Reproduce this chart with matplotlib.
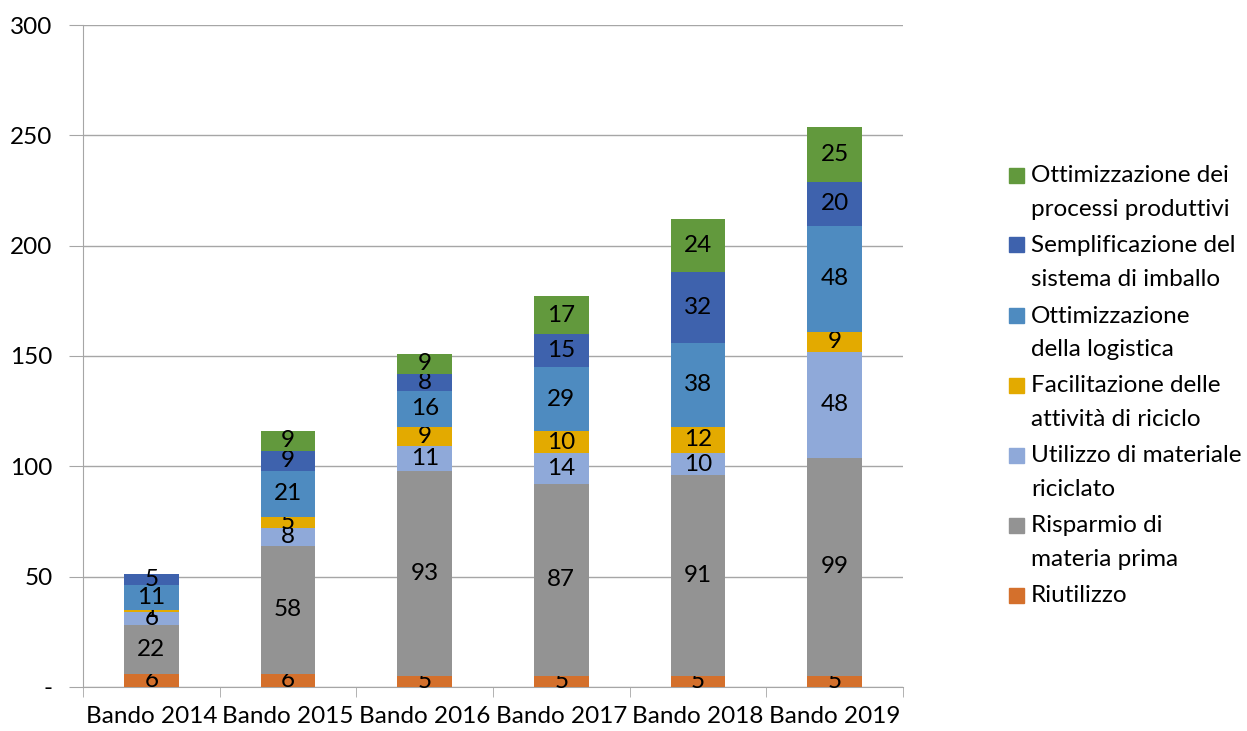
import numpy as np
import matplotlib.pyplot as plt
from matplotlib.patches import Rectangle

plt.rcParams['font.family'] = ['Lato', 'DejaVu Sans']

categories = ['Bando 2014', 'Bando 2015', 'Bando 2016', 'Bando 2017', 'Bando 2018', 'Bando 2019']

riutilizzo = [6, 6, 5, 5, 5, 5]
risparmio = [22, 58, 93, 87, 91, 99]
materiale_riciclato = [6, 8, 11, 14, 10, 48]
facilitazione = [1, 5, 9, 10, 12, 9]
logistica = [11, 21, 16, 29, 38, 48]
imballo = [5, 9, 8, 15, 32, 20]
processi = [0, 9, 9, 17, 24, 25]

series_names = ['Riutilizzo', 'Risparmio di\nmateria prima', 'Utilizzo di materiale\nriciclato',
                'Facilitazione delle\nattività di riciclo', 'Ottimizzazione\ndella logistica',
                'Semplificazione del\nsistema di imballo', 'Ottimizzazione dei\nprocessi produttivi']
series_values = [riutilizzo, risparmio, materiale_riciclato, facilitazione, logistica, imballo, processi]
colors = ['#D4702C', '#939393', '#8FA9D9', '#E3AA00', '#4E8BC0', '#3E62AD', '#62993D']

fs = 17.5
W, H = 1247, 731

fig = plt.figure(figsize=(W / 100, H / 100), dpi=100)
ax = fig.add_axes([0.0666, 0.0602, 0.6575, 0.9056])

x = np.arange(len(categories))
bottom = np.zeros(len(categories))
for name, vals, col in zip(series_names, series_values, colors):
    vals = np.array(vals, dtype=float)
    bars = ax.bar(x, vals, width=0.4, bottom=bottom, color=col, label=name, zorder=3)
    labels = [str(int(v)) if v > 0 else '' for v in vals]
    ax.bar_label(bars, labels=labels, label_type='center', fontsize=fs, color='black')
    bottom += vals

ax.set_xlim(-0.5, len(categories) - 0.5)
ax.set_ylim(0, 300)
ax.set_yticks(range(0, 301, 50))
ax.set_yticklabels(['-'] + [str(v) for v in range(50, 301, 50)], fontsize=fs)
ax.yaxis.grid(True, color='#A6A6A6', linewidth=1, zorder=0)

ax.set_xticks(x)
ax.set_xticklabels(categories, fontsize=fs)
ax.set_xticks(np.arange(-0.5, len(categories)), minor=True)
ax.tick_params(axis='x', which='major', length=0, pad=14)
ax.tick_params(axis='x', which='minor', length=7, color='#A6A6A6')
ax.tick_params(axis='y', length=10, color='#A6A6A6', pad=12)

for side in ['top', 'right']:
    ax.spines[side].set_visible(False)
for side in ['left', 'bottom']:
    ax.spines[side].set_color('#A6A6A6')

# legend drawn by hand: square beside the first line of each entry, top series first
box = 15
for i, (name, col) in enumerate(zip(series_names[::-1], colors[::-1])):
    y0 = 176 + 70 * i
    fig.patches.append(Rectangle(((1009) / W, 1 - (y0 - 1 + box / 2) / H), box / W, box / H,
                                 transform=fig.transFigure, color=col))
    for j, line in enumerate(name.split('\n')):
        fig.text(1031 / W, 1 - (y0 + 33 * j) / H, line, fontsize=fs, va='center', ha='left')

fig.savefig('out.png', dpi=100)
